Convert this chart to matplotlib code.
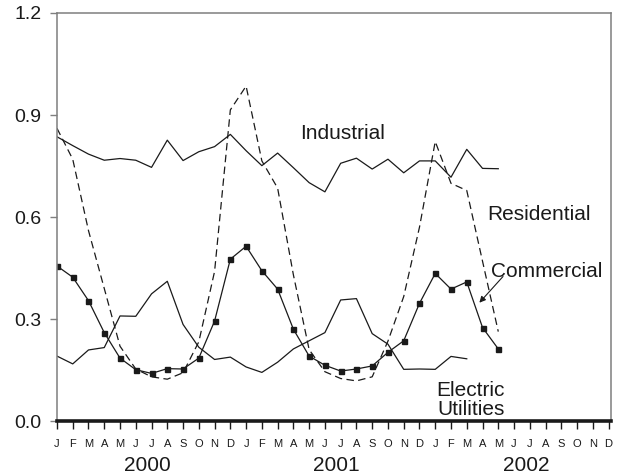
"""
Natural gas consumption by sector, monthly 2000-2002
"""

import numpy as np
import matplotlib
matplotlib.use('Agg')
import matplotlib.pyplot as plt

plt.rcParams['font.family'] = ['Liberation Sans', 'DejaVu Sans']

# Colors
BLACK = '#1a1a1a'
GRAY = '#7f7f7f'

# Data
month_letters = ['J', 'F', 'M', 'A', 'M', 'J', 'J', 'A', 'S', 'O', 'N', 'D']
years = ['2000', '2001', '2002']

industrial = [0.836, 0.810, 0.785, 0.767, 0.772, 0.767, 0.746, 0.826, 0.766, 0.792,
              0.807, 0.843, 0.795, 0.751, 0.788, 0.745, 0.701, 0.674, 0.758, 0.773,
              0.741, 0.770, 0.730, 0.765, 0.765, 0.717, 0.799, 0.743, 0.742]

residential = [0.861, 0.770, 0.560, 0.390, 0.220, 0.153, 0.130, 0.123, 0.142, 0.233,
               0.440, 0.915, 0.985, 0.765, 0.685, 0.430, 0.210, 0.145, 0.125, 0.118,
               0.130, 0.235, 0.366, 0.570, 0.822, 0.699, 0.678, 0.470, 0.263]

commercial = [0.456, 0.423, 0.354, 0.260, 0.185, 0.151, 0.140, 0.154, 0.153, 0.185,
              0.294, 0.476, 0.514, 0.442, 0.388, 0.270, 0.191, 0.164, 0.147, 0.153,
              0.162, 0.202, 0.236, 0.346, 0.434, 0.388, 0.409, 0.275, 0.212]

electric = [0.191, 0.168, 0.209, 0.216, 0.309, 0.308, 0.374, 0.411, 0.284, 0.217,
            0.181, 0.188, 0.159, 0.143, 0.173, 0.212, 0.236, 0.260, 0.356, 0.360,
            0.257, 0.226, 0.152, 0.153, 0.152, 0.190, 0.183]

fig = plt.figure(figsize=(6.26, 4.76), dpi=100)
ax = fig.add_axes([0.091, 0.1155, 0.885, 0.8572])

x_ind = np.arange(len(industrial))
x_res = np.arange(len(residential))
x_com = np.arange(len(commercial))
x_ele = np.arange(len(electric))

ax.plot(x_ind, industrial, color=BLACK, lw=0.9)
ax.plot(x_res, residential, color=BLACK, lw=0.9, dashes=(6, 3.5))
ax.plot(x_com, commercial, color=BLACK, lw=0.9, marker='s', markersize=3.6,
        markerfacecolor=BLACK, markeredgecolor=BLACK)
ax.plot(x_ele, electric, color=BLACK, lw=0.9)

# Axes limits and ticks
ax.set_xlim(0, 35.15)
ax.set_ylim(0, 1.2)
ax.set_yticks([0.0, 0.3, 0.6, 0.9, 1.2])
ax.set_yticklabels(['0.0', '0.3', '0.6', '0.9', '1.2'], fontsize=14, color=BLACK)
ax.set_xticks(np.arange(36))
ax.set_xticklabels(month_letters * 3, fontsize=8, color=BLACK)

ax.tick_params(axis='y', direction='out', length=5, width=1, color=GRAY, pad=6)
ax.tick_params(axis='x', direction='out', length=6, width=1, color=BLACK, pad=7)

for side in ['top', 'right', 'left']:
    ax.spines[side].set_color(GRAY)
    ax.spines[side].set_linewidth(1.1)
ax.spines['bottom'].set_color(BLACK)
ax.spines['bottom'].set_linewidth(2.6)

# Year labels
for i, yr in enumerate(years):
    ax.text(5.75 + 12 * i, -0.11, yr, transform=ax.get_xaxis_transform(),
            ha='center', va='center', fontsize=15, color=BLACK)

# Series labels
ax.text(15.4, 0.845, 'Industrial', ha='left', va='center', fontsize=15, color=BLACK)
ax.text(27.3, 0.607, 'Residential', ha='left', va='center', fontsize=15, color=BLACK)
ax.text(27.55, 0.44, 'Commercial', ha='left', va='center', fontsize=15, color=BLACK)
ax.text(26.25, 0.062, 'Electric\nUtilities', ha='center', va='center', fontsize=15,
        color=BLACK, linespacing=1.05)

ax.annotate('', xy=(26.8, 0.348), xytext=(28.3, 0.425),
            arrowprops=dict(arrowstyle='-|>', color=BLACK, lw=0.8,
                            mutation_scale=9, shrinkA=0, shrinkB=0))

plt.savefig('out.png', dpi=100)
